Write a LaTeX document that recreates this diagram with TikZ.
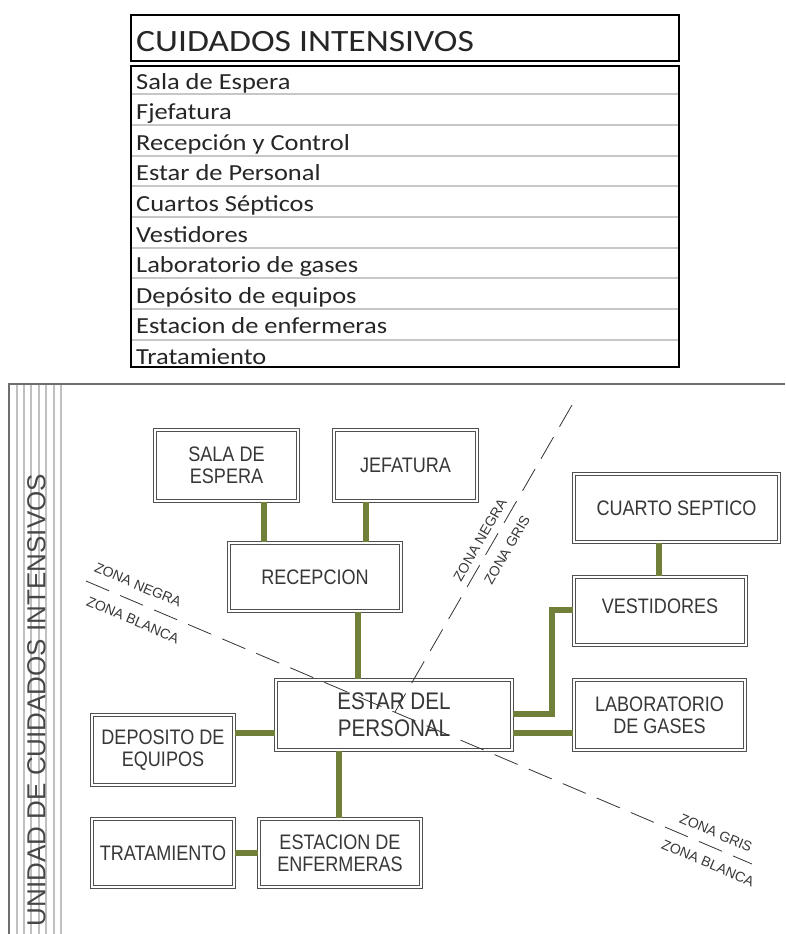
\documentclass[tikz,border=0pt]{standalone}
\usepackage{fontspec}
\setmainfont{Liberation Sans}
\newfontfamily\tabfont[FakeStretch=1.15]{Carlito}
\newfontfamily\boxfont[FakeStretch=0.86]{Liberation Sans}
\newfontfamily\vfont{Liberation Sans}
\usetikzlibrary{calc}
\definecolor{olivelink}{RGB}{112,128,56}
\definecolor{frameg}{RGB}{110,110,110}
\definecolor{lightg}{RGB}{192,192,192}
\definecolor{boxline}{RGB}{80,80,80}
\definecolor{txt}{RGB}{55,55,55}
\begin{document}
\begin{tikzpicture}[x=1pt,y=-1pt,
 room/.style={draw=boxline, line width=0.9pt, double=white, double distance=2pt, align=center,
   font=\boxfont\fontsize{21}{22}\selectfont, text=txt, inner sep=2pt},
 link/.style={draw=olivelink, line width=6.5pt},
 zone/.style={draw=black!80, line width=0.8pt, dash pattern=on 25pt off 12pt},
 zlabel/.style={font=\fontsize{14}{14}\selectfont, text=txt, inner sep=0pt},
 rowtext/.style={anchor=base west, font=\tabfont\fontsize{23}{23}\selectfont, text=black!85, inner sep=0pt},
 sepline/.style={draw=black!22, line width=1.8pt},
 tabframe/.style={draw=black, line width=2pt},
]
\useasboundingbox[fill=white] (0,0) rectangle (785,934);

% ---------- table ----------
\draw[tabframe] (131,15) rectangle (679,61);
\node[anchor=base west, font=\tabfont\fontsize{31}{31}\selectfont, text=black!85, inner sep=0pt] (ttitle) at (136,52) {CUIDADOS INTENSIVOS};
\foreach \y in {94,125,156,186,217,248,278,309,340} \draw[sepline] (132,\y) -- (678,\y);
\draw[tabframe] (131,66) rectangle (679,367);
\node[rowtext] (r1) at (136,89) {Sala de Espera};
\node[rowtext] (r2) at (136,119.6) {Fjefatura};
\node[rowtext] (r3) at (136,150.2) {Recepción y Control};
\node[rowtext] (r4) at (136,180.8) {Estar de Personal};
\node[rowtext] (r5) at (136,211.4) {Cuartos Sépticos};
\node[rowtext] (r6) at (136,242) {Vestidores};
\node[rowtext] (r7) at (136,272.6) {Laboratorio de gases};
\node[rowtext] (r8) at (136,303.2) {Depósito de equipos};
\node[rowtext] (r9) at (136,333.8) {Estacion de enfermeras};
\node[rowtext] (r10) at (136,364.4) {Tratamiento};

% ---------- frame ----------
\foreach \x in {17,24,31,39,46,54,61} \draw[draw=lightg, line width=1.3pt] (\x,385) -- (\x,934);
\draw[draw=frameg, line width=1.6pt] (9,934) -- (9,384) -- (785,384);
\node[rotate=90, font=\vfont\fontsize{26}{26}\selectfont, text=black!72, inner sep=0pt] (vtitle) at (36.5,700) {UNIDAD DE CUIDADOS INTENSIVOS};

% ---------- rooms ----------
\node[room, minimum width=143.4pt, minimum height=71.4pt] (sala) at (226.5,465.5) {SALA DE\\ESPERA};
\node[room, minimum width=143.4pt, minimum height=71.4pt] (jef) at (405.5,465.5) {JEFATURA};
\node[room, minimum width=172.4pt, minimum height=68.4pt] (recep) at (315,577) {RECEPCION};
\node[room, minimum width=236.4pt, minimum height=70.4pt, font=\boxfont\fontsize{24}{27}\selectfont] (estar) at (394,715) {ESTAR DEL\\PERSONAL};
\node[room, minimum width=142.4pt, minimum height=70.4pt] (dep) at (163,750) {DEPOSITO DE\\EQUIPOS};
\node[room, minimum width=142.4pt, minimum height=68.4pt] (trat) at (163,853) {TRATAMIENTO};
\node[room, minimum width=162.4pt, minimum height=68.4pt] (estac) at (340,853) {ESTACION DE\\ENFERMERAS};
\node[room, minimum width=205.4pt, minimum height=68.4pt] (cuarto) at (676.5,508) {CUARTO SEPTICO};
\node[room, minimum width=172.4pt, minimum height=68.4pt, text depth=10pt] (vest) at (660,611) {VESTIDORES};
\node[room, minimum width=171.4pt, minimum height=70.4pt] (lab) at (659.5,715) {LABORATORIO\\DE GASES};

% ---------- links ----------
\draw[link] (sala.south -| 264,0) -- (recep.north -| 264,0);
\draw[link] (jef.south -| 366,0) -- (recep.north -| 366,0);
\draw[link] (recep.south -| 358,0) -- (estar.north -| 358,0);
\draw[link] (dep.east |- 0,733) -- (estar.west |- 0,733);
\draw[link] (estar.south -| 339,0) -- (estac.north -| 339,0);
\draw[link] (trat.east |- 0,853) -- (estac.west |- 0,853);
\draw[link] (cuarto.south -| 659,0) -- (vest.north -| 659,0);
\draw[link] (estar.east |- 0,714) -| (552,660) |- (vest.west |- 0,610);
\draw[link] (estar.east |- 0,733) -- (lab.west |- 0,733);

% ---------- zone lines ----------
\coordinate (z1a) at (86,581);
\coordinate (z1b) at (752,864);
\coordinate (z2a) at (572,405);
\coordinate (zx) at (395,712);
\draw[zone] (z1a) -- (z1b);
\draw[zone] (z2a) -- (zx);
\node[zlabel, rotate=-23] (zn1) at (138,585) {ZONA NEGRA};
\node[zlabel, rotate=-23] (zb1) at (133,620) {ZONA BLANCA};
\node[zlabel, rotate=-23] (zg2) at (716,833) {ZONA GRIS};
\node[zlabel, rotate=-23] (zb2) at (708,863) {ZONA BLANCA};
\node[zlabel, rotate=60] (zn3) at (480,540) {ZONA NEGRA};
\node[zlabel, rotate=60] (zg3) at (507,550) {ZONA GRIS};
\end{tikzpicture}
\end{document}
